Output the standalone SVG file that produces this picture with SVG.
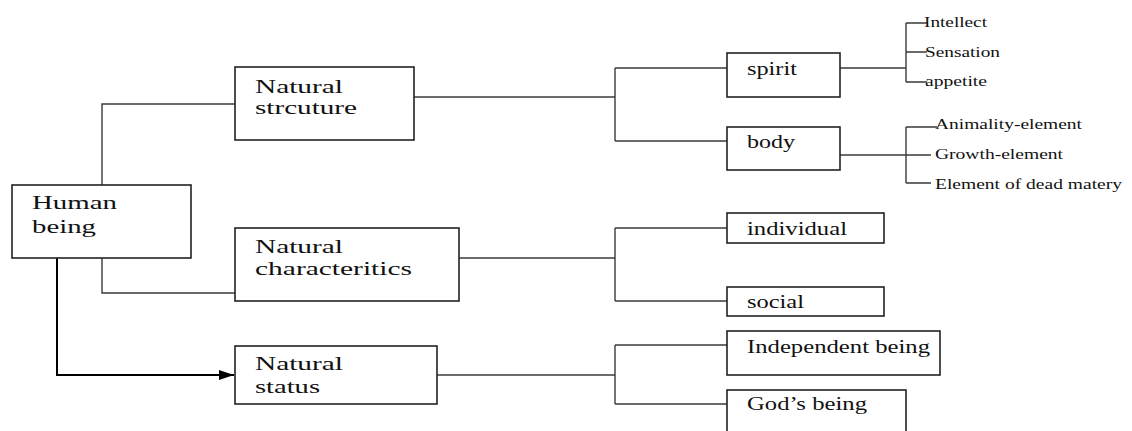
<svg xmlns="http://www.w3.org/2000/svg" width="1132" height="431" viewBox="0 0 1132 431">
<style>
.box{fill:#fff;stroke:#222;stroke-width:1.6}
.ln{fill:none;stroke:#3a3a3a;stroke-width:1.4}
.ar{fill:none;stroke:#000;stroke-width:2}
text{font-family:'Liberation Serif','DejaVu Serif',serif;fill:#111}
.t1{font-size:19px}
.t2{font-size:18px}
.t3{font-size:14px}
</style>
<defs>
<marker id="arrow" markerWidth="16" markerHeight="12" refX="15" refY="5" orient="auto" markerUnits="userSpaceOnUse">
<path d="M0,0 L15,5 L0,10 Z" fill="#000"/>
</marker>
</defs>
<rect width="1132" height="431" fill="#fff"/>
<g id="connectors">
<path class="ln" d="M102,185 V104 H235"/>
<path class="ln" d="M102,258 V293 H235"/>
<path class="ar" d="M57,258 V375 H234" marker-end="url(#arrow)"/>
<path class="ln" d="M414,97 H615"/>
<path class="ln" d="M615,68 V141"/>
<path class="ln" d="M615,68 H727"/>
<path class="ln" d="M615,141 H727"/>
<path class="ln" d="M459,258 H615"/>
<path class="ln" d="M615,228 V301"/>
<path class="ln" d="M615,228 H727"/>
<path class="ln" d="M615,301 H727"/>
<path class="ln" d="M437,375 H615"/>
<path class="ln" d="M615,345 V404"/>
<path class="ln" d="M615,345 H727"/>
<path class="ln" d="M615,404 H727"/>
<path class="ln" d="M840,68 H906"/>
<path class="ln" d="M906,23 V82"/>
<path class="ln" d="M906,23 H927 M906,52 H927 M906,82 H927"/>
<path class="ln" d="M840,155 H906"/>
<path class="ln" d="M906,127 V183"/>
<path class="ln" d="M906,127 H937 M906,155 H931 M906,183 H931"/>
</g>
<g font-family="Liberation Serif, DejaVu Serif, serif">
<g id="human-being">
<rect class="box" x="12" y="185" width="179" height="73"/>
<text class="t1" x="32" y="209" textLength="85" lengthAdjust="spacingAndGlyphs">Human</text>
<text class="t1" x="32" y="233" textLength="64" lengthAdjust="spacingAndGlyphs">being</text>
</g>
<g id="natural-structure">
<rect class="box" x="235" y="67" width="179" height="73"/>
<text class="t1" x="255" y="93" textLength="88" lengthAdjust="spacingAndGlyphs">Natural</text>
<text class="t1" x="255" y="114" textLength="102" lengthAdjust="spacingAndGlyphs">strcuture</text>
</g>
<g id="natural-characteritics">
<rect class="box" x="235" y="228" width="224" height="73"/>
<text class="t1" x="255" y="253" textLength="88" lengthAdjust="spacingAndGlyphs">Natural</text>
<text class="t1" x="255" y="275" textLength="157" lengthAdjust="spacingAndGlyphs">characteritics</text>
</g>
<g id="natural-status">
<rect class="box" x="235" y="346" width="202" height="58"/>
<text class="t1" x="255" y="370" textLength="88" lengthAdjust="spacingAndGlyphs">Natural</text>
<text class="t1" x="255" y="393" textLength="65" lengthAdjust="spacingAndGlyphs">status</text>
</g>
<g id="spirit">
<rect class="box" x="727" y="53" width="113" height="44"/>
<text class="t2" x="747" y="75" textLength="50" lengthAdjust="spacingAndGlyphs">spirit</text>
</g>
<g id="body">
<rect class="box" x="727" y="127" width="113" height="43"/>
<text class="t2" x="747" y="148" textLength="48" lengthAdjust="spacingAndGlyphs">body</text>
</g>
<g id="individual">
<rect class="box" x="727" y="213" width="157" height="30"/>
<text class="t2" x="747" y="235" textLength="100" lengthAdjust="spacingAndGlyphs">individual</text>
</g>
<g id="social">
<rect class="box" x="727" y="287" width="157" height="29"/>
<text class="t2" x="747" y="308" textLength="57" lengthAdjust="spacingAndGlyphs">social</text>
</g>
<g id="independent-being">
<rect class="box" x="727" y="331" width="213" height="44"/>
<text class="t2" x="747" y="353" textLength="183" lengthAdjust="spacingAndGlyphs">Independent being</text>
</g>
<g id="gods-being">
<rect class="box" x="727" y="390" width="179" height="44"/>
<text class="t2" x="747" y="410" textLength="120" lengthAdjust="spacingAndGlyphs">God’s being</text>
</g>
<g id="intellect"><text class="t3" x="924" y="27" textLength="63" lengthAdjust="spacingAndGlyphs">Intellect</text></g>
<g id="sensation"><text class="t3" x="925" y="57" textLength="75" lengthAdjust="spacingAndGlyphs">Sensation</text></g>
<g id="appetite"><text class="t3" x="925" y="86" textLength="62" lengthAdjust="spacingAndGlyphs">appetite</text></g>
<g id="animality-element"><text class="t3" x="935" y="129" textLength="147" lengthAdjust="spacingAndGlyphs">Animality-element</text></g>
<g id="growth-element"><text class="t3" x="935" y="159" textLength="128" lengthAdjust="spacingAndGlyphs">Growth-element</text></g>
<g id="element-dead-matery"><text class="t3" x="935" y="189" textLength="187" lengthAdjust="spacingAndGlyphs">Element of dead matery</text></g>
</g>
</svg>
